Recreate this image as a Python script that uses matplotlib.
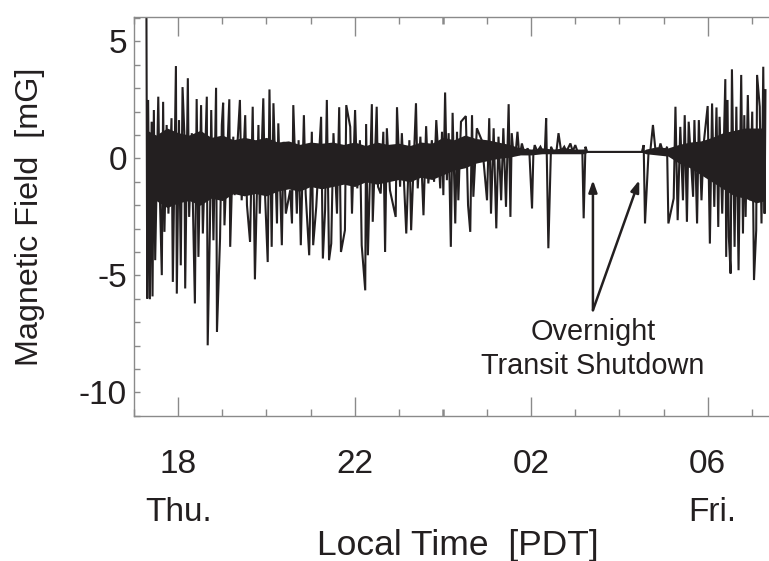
import numpy as np
import matplotlib
matplotlib.use("Agg")
import matplotlib.pyplot as plt
from matplotlib.ticker import MultipleLocator, FixedLocator

plt.rcParams['font.family'] = ['Liberation Sans', 'DejaVu Sans']

# ---- data (hours since Thursday 00:00; 24 = midnight) ----
# start: a sample off the top of the scale
start_t = [17.28]
start_v = [7.5]

# upper excursions (time [h], field [mG])
hi_t = [17.32, 17.40, 17.45, 17.55, 17.66, 17.74, 17.85, 17.95, 18.02, 18.10,
        18.14, 18.22, 18.31, 18.42, 18.52, 18.65, 18.75, 18.86, 18.99, 19.02,
        19.16, 19.25, 19.40, 19.52, 19.69, 19.82, 19.93, 20.07, 20.16, 20.27,
        20.39, 20.61, 20.73, 20.85, 21.03, 21.24, 21.37, 21.52, 21.65, 21.81,
        21.90, 22.01, 22.12, 22.26, 22.39, 22.50, 22.65, 22.73, 22.96, 23.07,
        23.24, 23.39, 23.49, 23.62, 23.75, 23.85, 23.98, 24.05, 24.13, 24.22,
        24.32, 24.41, 24.52, 24.66, 24.77, 24.88, 25.05, 25.15, 25.26, 25.37,
        25.49, 25.56, 25.69, 25.79, 25.92, 26.08, 26.21, 26.34, 26.45, 26.62,
        26.75, 26.89, 27.00, 27.23, 27.27, 28.51, 28.55, 28.76, 28.93, 29.08,
        29.27, 29.38, 29.48, 29.57, 29.70, 29.80, 29.91, 30.00, 30.10, 30.20,
        30.27, 30.40, 30.45, 30.55, 30.65, 30.76, 30.83, 30.91, 31.01, 31.12,
        31.18, 31.26, 31.31]
hi_v = [2.50, 1.57, 2.07, 2.64, 2.42, 1.43, 1.72, 3.95, 1.64, 3.05,
        1.13, 3.43, 1.08, 2.54, 2.28, 2.64, 2.07, 3.02, 1.43, 2.38,
        2.53, 0.93, 2.50, 1.85, 2.21, 1.43, 2.57, 2.95, 2.36, 1.50,
        0.71, 2.28, 0.78, 1.85, 1.14, 1.78, 2.50, 1.08, 2.19, 2.28,
        1.35, 2.07, 0.78, 1.47, 2.32, 2.21, 1.14, 1.29, 2.19, 1.08,
        0.78, 2.36, 0.93, 1.38, 0.78, 1.64, 1.14, 2.82, 1.08, 1.95,
        1.14, 1.57, 1.81, 1.85, 1.29, 0.78, 1.72, 1.29, 0.93, 1.29,
        2.32, 1.08, 1.14, 0.64, 0.43, 0.57, 0.50, 1.72, 0.50, 1.08,
        0.50, 0.64, 0.57, 0.50, 0.28, 0.28, 0.57, 1.43, 0.64, 0.50,
        2.21, 1.35, 1.85, 1.57, 1.64, 1.64, 0.64, 2.24, 2.35, 2.18,
        1.78, 3.39, 2.50, 3.81, 2.21, 3.57, 1.85, 2.71, 2.00, 3.57,
        2.21, 3.92, 2.92]

# lower excursions (time [h], field [mG])
lo_t = [17.30, 17.36, 17.42, 17.48, 17.58, 17.63, 17.69, 17.78, 17.88, 17.97,
        18.06, 18.16, 18.25, 18.33, 18.38, 18.46, 18.56, 18.67, 18.72, 18.80,
        18.88, 18.95, 19.05, 19.18, 19.28, 19.44, 19.56, 19.63, 19.74, 19.85,
        19.97, 20.03, 20.12, 20.24, 20.35, 20.44, 20.54, 20.58, 20.69, 20.78,
        20.89, 20.97, 21.06, 21.13, 21.28, 21.33, 21.42, 21.47, 21.60, 21.69,
        21.78, 21.94, 22.06, 22.16, 22.24, 22.30, 22.41, 22.53, 22.59, 22.69,
        22.80, 22.93, 23.03, 23.17, 23.28, 23.43, 23.56, 23.67, 23.80, 23.94,
        24.01, 24.09, 24.18, 24.28, 24.35, 24.57, 24.62, 24.69, 25.00, 25.09,
        25.21, 25.32, 25.43, 25.53, 26.02, 26.39, 27.19, 28.58, 29.11, 29.23,
        29.32, 29.44, 29.53, 29.67, 29.76, 29.86, 30.05, 30.15, 30.24, 30.33,
        30.42, 30.48, 30.52, 30.61, 30.70, 30.80, 30.86, 30.96, 31.05, 31.10,
        31.22, 31.29]
lo_v = [-5.99, -6.02, -5.90, -4.35, -1.14, -4.99, -3.14, -2.36, -5.28, -5.78,
        -4.57, -5.56, -2.50, -1.57, -6.20, -4.21, -3.21, -7.99, -2.99, -3.50,
        -7.42, -3.42, -2.86, -3.78, -1.57, -1.79, -2.00, -3.57, -5.17, -2.36,
        -1.57, -4.43, -3.78, -2.78, -3.71, -2.36, -1.36, -2.78, -2.36, -3.71,
        -1.50, -4.14, -3.71, -2.07, -4.28, -2.21, -4.35, -3.64, -2.36, -4.00,
        -3.07, -2.36, -1.28, -3.71, -5.64, -4.14, -2.71, -1.21, -1.50, -4.00,
        -1.36, -2.50, -1.21, -3.21, -3.07, -1.28, -2.43, -1.07, -1.00, -1.28,
        -1.57, -0.93, -3.78, -2.78, -1.79, -2.00, -3.14, -1.64, -1.79, -2.36,
        -2.99, -1.79, -2.07, -2.50, -2.14, -3.84, -2.56, -2.78, -2.78, -1.71,
        -2.64, -1.79, -2.71, -1.64, -2.78, -1.79, -3.64, -2.07, -2.93, -2.36,
        -4.21, -3.36, -4.92, -3.78, -4.78, -3.21, -2.50, -1.79, -5.20, -3.07,
        -2.78, -2.36]

# quiet baseline between the excursions in the early-morning hours
base_t = [25.60, 25.65, 25.73, 25.76, 25.85, 25.96, 26.05, 26.14, 26.27, 26.31,
          26.50, 26.57, 26.68, 26.80, 26.94, 27.05, 27.12, 27.16,
          28.66, 28.70, 28.82, 28.88, 29.00, 29.04]
base_v = [0.15, 0.25, 0.15, 0.30, 0.20, 0.25, 0.20, 0.30, 0.25, 0.30,
          0.30, 0.25, 0.30, 0.30, 0.30, 0.30, 0.25, 0.30,
          0.25, 0.30, 0.30, 0.25, 0.20, 0.30]

# dense core of the trace (envelope of the rapid fluctuations)
core_t = [17.30, 17.50, 17.75, 18.00, 18.25, 18.50, 18.75, 19.00, 19.25, 19.50,
          19.75, 20.00, 20.25, 20.50, 20.75, 21.00, 21.25, 21.50, 21.75, 22.00,
          22.25, 22.50, 22.75, 23.00, 23.25, 23.50, 23.75, 24.00, 24.25, 24.50,
          24.75, 25.00, 25.25, 25.50, 25.75, 26.00, 26.25, 26.50, 26.75, 27.00,
          27.20, 27.27, 28.51, 28.60, 28.85, 29.10, 29.35, 29.60, 29.85, 30.10,
          30.35, 30.60, 30.85, 31.10, 31.31]
core_top = [1.20, 1.00, 1.30, 1.10, 1.00, 1.20, 0.90, 1.00, 0.80, 0.90,
            0.80, 0.90, 0.70, 0.75, 0.60, 0.70, 0.65, 0.70, 0.60, 0.70,
            0.55, 0.70, 0.60, 0.65, 0.55, 0.70, 0.65, 0.90, 0.80, 1.00,
            0.85, 0.80, 0.70, 0.60, 0.45, 0.40, 0.45, 0.40, 0.45, 0.40,
            0.40, 0.30, 0.30, 0.40, 0.50, 0.45, 0.60, 0.70, 0.75, 0.90,
            1.10, 1.20, 1.30, 1.30, 1.30]
core_bot = [-2.00, -1.80, -2.10, -1.90, -1.80, -2.00, -1.70, -1.80, -1.50, -1.60,
            -1.50, -1.60, -1.40, -1.30, -1.40, -1.20, -1.30, -1.20, -1.10, -1.20,
            -1.00, -1.10, -1.00, -0.90, -1.00, -0.80, -0.90, -0.70, -0.50, -0.40,
            -0.20, -0.10, 0.00, 0.05, 0.15, 0.15, 0.20, 0.20, 0.20, 0.20,
            0.20, 0.26, 0.26, 0.20, 0.15, 0.10, -0.20, -0.40, -0.70, -1.00,
            -1.30, -1.60, -1.70, -1.90, -1.80]

major_ticks = [18, 22, 26, 30]
major_labels = ['18', '22', '02', '06']
day_labels = [(18, 'Thu.'), (30.1, 'Fri.')]

# ---- figure ----
ink = '#231f20'
grey = '#8a8a8a'
fig = plt.figure(figsize=(7.69, 5.61), dpi=100)
ax = fig.add_axes([134 / 769, (561 - 415.7) / 561, 635 / 769, (415.7 - 16.7) / 561])

t = np.array(start_t + hi_t + lo_t + base_t)
v = np.array(start_v + hi_v + lo_v + base_v)
order = np.argsort(t, kind='stable')
ax.fill_between(core_t, core_bot, core_top, color=ink, lw=0)
ax.plot(t[order], v[order], color=ink, lw=1.5, solid_joinstyle='miter')

ax.set_xlim(17.0, 31.39)
ax.set_ylim(-11.0, 6.06)

ax.xaxis.set_major_locator(FixedLocator(major_ticks))
ax.set_xticklabels(major_labels)
ax.xaxis.set_minor_locator(MultipleLocator(1))
ax.yaxis.set_major_locator(FixedLocator([-10, -5, 0, 5]))
ax.set_yticklabels(['-10', '-5', '0', '5'])
ax.yaxis.set_minor_locator(MultipleLocator(1))

ax.tick_params(axis='x', which='major', direction='in', length=13.5, width=1.0,
               color=grey, top=True, pad=24, labelsize=24, labelcolor=ink)
ax.tick_params(axis='x', which='minor', direction='in', length=5, width=1.0,
               color=grey, top=True)
ax.tick_params(axis='y', which='both', direction='in', length=4.3, width=1.0,
               color=grey, right=False, pad=5, labelsize=24, labelcolor=ink)

for s in ['left', 'bottom', 'top']:
    ax.spines[s].set_color(grey)
    ax.spines[s].set_linewidth(1.0)
ax.spines['right'].set_visible(False)

for x, lab in day_labels:
    ax.annotate(lab, xy=(x, 0), xycoords=('data', 'axes fraction'),
                xytext=(0, -97), textcoords='offset pixels',
                ha='center', va='center', fontsize=24, color=ink)

fig.text(458 / 769, 1 - 546 / 561, 'Local Time  [PDT]', ha='center', va='center',
         fontsize=25.5, color=ink)
fig.text(30 / 769, 1 - 217 / 561, 'Magnetic Field  [mG]', ha='center', va='center',
         rotation=90, fontsize=23.3, color=ink)

# annotation
tail = (27.40, -6.49)
for tip in [(27.40, -0.93), (28.45, -0.93)]:
    ax.annotate('', xy=tip, xytext=tail,
                arrowprops=dict(arrowstyle='-|>,head_length=0.7,head_width=0.25',
                                color=ink, lw=1.8, shrinkA=0, shrinkB=0))
ax.text(27.40, -8.15, 'Overnight\nTransit Shutdown', ha='center', va='center',
        fontsize=20.8, color=ink, linespacing=1.3)

# midnight tick drawn darker
fig.canvas.draw()
for tk in ax.xaxis.get_minor_ticks():
    if abs(tk.get_loc() - 24) < 1e-6:
        for ln in (tk.tick1line, tk.tick2line):
            ln.set_color(ink)
            ln.set_markeredgewidth(1.8)

fig.savefig('out.png', dpi=100)
